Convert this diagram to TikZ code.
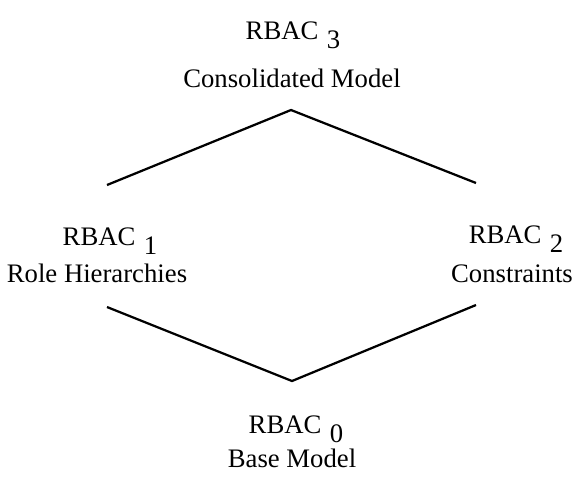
\documentclass[tikz,border=0pt]{standalone}
\usepackage{fontspec}
\setmainfont{Liberation Serif}
\newcommand{\rbac}[1]{RBAC\hspace{3pt}\raisebox{-3.2pt}{#1}}
\tikzset{lbl/.style={anchor=base,inner sep=0pt,font=\fontsize{9.5}{12}\selectfont}}
\begin{document}
\begin{tikzpicture}[x=0.125mm,y=-0.125mm]
	\useasboundingbox (0,0) rectangle (584,481);
	\node[lbl] (R3) at(293,39) {\rbac{3}};
	\node[lbl] (N3) at(292,87) {Consolidated Model};
	\node[lbl] (R1) at(110,245) {\rbac{1}};
	\node[lbl] (N1) at(97,282) {Role Hierarchies};
	\node[lbl] (R2) at(516,243) {\rbac{2}};
	\node[lbl] (N2) at(512,282) {Constraints};
	\node[lbl] (R0) at(296,433) {\rbac{0}};
	\node[lbl] (N0) at(292,467) {Base Model};
	
	\coordinate (top) at(291,110);
	\coordinate (bot) at(292,381);
	\coordinate (inA) at(107,185);
	\coordinate (inB) at(476,183);
	\coordinate (outA) at(107,307);
	\coordinate (outB) at(476,305);
	
	\draw[line width=0.8pt] (inA)--(top)--(inB);
	\draw[line width=0.8pt] (outA)--(bot)--(outB);
\end{tikzpicture}
\end{document}
